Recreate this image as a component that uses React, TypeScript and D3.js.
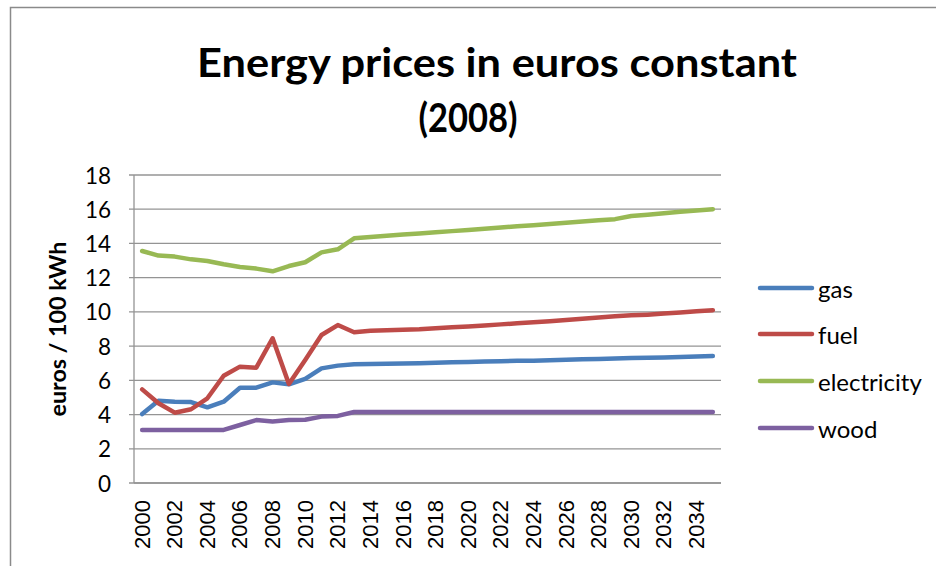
import React from "react";
import * as d3 from "d3";

const years = [
  "2000","2001","2002","2003","2004","2005","2006","2007","2008","2009",
  "2010","2011","2012","2013","2014","2015","2016","2017","2018","2019",
  "2020","2021","2022","2023","2024","2025","2026","2027","2028","2029",
  "2030","2031","2032","2033","2034","2035",
];
const xTickLabels = [
  "2000","2002","2004","2006","2008","2010","2012","2014","2016",
  "2018","2020","2022","2024","2026","2028","2030","2032","2034",
];
const yTicks = [0, 2, 4, 6, 8, 10, 12, 14, 16, 18];

const gas = [
  4.03, 4.81, 4.75, 4.73, 4.42, 4.75, 5.57, 5.57, 5.88, 5.77, 6.08, 6.7, 6.86,
  6.94, 6.95, 6.97, 6.98, 7.0, 7.03, 7.05, 7.07, 7.1, 7.12, 7.14, 7.15, 7.17,
  7.2, 7.23, 7.25, 7.27, 7.3, 7.32, 7.34, 7.37, 7.4, 7.42,
];
const fuel = [
  5.47, 4.66, 4.11, 4.31, 4.95, 6.27, 6.8, 6.74, 8.46, 5.79, 7.19, 8.65, 9.23,
  8.81, 8.9, 8.92, 8.95, 8.98, 9.04, 9.1, 9.15, 9.2, 9.27, 9.33, 9.4, 9.45,
  9.52, 9.6, 9.67, 9.74, 9.8, 9.84, 9.9, 9.97, 10.04, 10.1,
];
const electricity = [
  13.56, 13.29, 13.23, 13.07, 12.97, 12.78, 12.62, 12.53, 12.37, 12.68, 12.9,
  13.48, 13.66, 14.3, 14.38, 14.45, 14.52, 14.58, 14.65, 14.72, 14.79, 14.86,
  14.93, 15.0, 15.07, 15.14, 15.21, 15.28, 15.35, 15.42, 15.6, 15.68, 15.77,
  15.85, 15.93, 16.0,
];
const wood = [
  3.1, 3.1, 3.1, 3.1, 3.1, 3.1, 3.39, 3.68, 3.6, 3.68, 3.7, 3.88, 3.92, 4.15,
  4.15, 4.15, 4.15, 4.15, 4.15, 4.15, 4.15, 4.15, 4.15, 4.15, 4.15, 4.15, 4.15,
  4.15, 4.15, 4.15, 4.15, 4.15, 4.15, 4.15, 4.15, 4.15,
];

const seriesNames = ["gas", "fuel", "electricity", "wood"];
const seriesColors = ["#4A7EBB", "#BE4B48", "#98B954", "#7D60A0"];
const seriesValues = [gas, fuel, electricity, wood];

export default function App() {
  const W = 936;
  const H = 566;
  const plot = { left: 134, right: 721, top: 175, bottom: 483 };

  const x = d3
    .scalePoint<string>()
    .domain(years)
    .range([plot.left, plot.right])
    .padding(0.5);
  const y = d3.scaleLinear().domain([0, 18]).range([plot.bottom, plot.top]);

  const line = d3
    .line<number>()
    .x((_, i) => x(years[i]) as number)
    .y((d) => y(d));

  const gridColor = "#949494";
  const legendY = [288, 334, 381, 428];

  return (
    <svg
      width={W}
      height={H}
      style={{ position: "absolute", left: 0, top: 0, background: "#fff" }}
    >
      <rect x={0} y={0} width={W} height={H} fill="#fff" />
      {/* chart frame */}
      <rect
        x={10.5}
        y={7.5}
        width={W + 50}
        height={H + 50}
        fill="#fff"
        stroke="#8a8a8a"
        strokeWidth={1.5}
      />

      {/* title */}
      <text
        x={497}
        y={77}
        textAnchor="middle"
        fontFamily="Lato, 'Open Sans', sans-serif"
        fontWeight={700}
        fontSize={40}
        fill="#000"
        textLength={600}
        lengthAdjust="spacingAndGlyphs"
      >
        Energy prices in euros constant
      </text>
      <text
        x={468}
        y={132}
        textAnchor="middle"
        fontFamily="Lato, 'Open Sans', sans-serif"
        fontWeight={700}
        fontSize={40}
        fill="#000"
        textLength={99}
        lengthAdjust="spacingAndGlyphs"
      >
        (2008)
      </text>

      {/* gridlines */}
      {yTicks.map((t) => (
        <line
          key={"g" + t}
          x1={plot.left - 5}
          x2={plot.right}
          y1={y(t)}
          y2={y(t)}
          stroke={gridColor}
          strokeWidth={1.3}
        />
      ))}
      {/* axes */}
      <line
        x1={plot.left}
        x2={plot.left}
        y1={plot.top}
        y2={plot.bottom}
        stroke={gridColor}
        strokeWidth={1.3}
      />
      <line
        x1={plot.left}
        x2={plot.right}
        y1={plot.bottom}
        y2={plot.bottom}
        stroke={gridColor}
        strokeWidth={1.3}
      />

      {/* y tick labels */}
      {yTicks.map((t) => (
        <text
          key={"yl" + t}
          x={111}
          y={y(t)}
          textAnchor="end"
          dominantBaseline="central"
          fontFamily="Lato, 'Open Sans', sans-serif"
          fontSize={22.5}
          fill="#000"
        >
          {t}
        </text>
      ))}

      {/* y axis title */}
      <text
        transform={`translate(66, ${(plot.top + plot.bottom) / 2}) rotate(-90)`}
        textAnchor="middle"
        fontFamily="Lato, 'Open Sans', sans-serif"
        fontWeight={700}
        fontSize={22}
        fill="#000"
        textLength={175}
        lengthAdjust="spacingAndGlyphs"
      >
        euros / 100 kWh
      </text>

      {/* x tick labels */}
      {xTickLabels.map((lab) => (
        <text
          key={"xl" + lab}
          transform={`translate(${x(lab) as number}, 500) rotate(-90)`}
          textAnchor="end"
          dominantBaseline="central"
          fontFamily="'Liberation Sans', Arial, sans-serif"
          fontSize={22}
          fill="#000"
        >
          {lab}
        </text>
      ))}

      {/* series lines */}
      {seriesValues.map((vals, i) => (
        <path
          key={seriesNames[i]}
          d={line(vals) as string}
          fill="none"
          stroke={seriesColors[i]}
          strokeWidth={4.5}
          strokeLinejoin="round"
          strokeLinecap="round"
        />
      ))}

      {/* legend */}
      {seriesNames.map((name, i) => (
        <g key={"lg" + name}>
          <line
            x1={760}
            x2={812}
            y1={legendY[i]}
            y2={legendY[i]}
            stroke={seriesColors[i]}
            strokeWidth={4.5}
            strokeLinecap="round"
          />
          <text
            x={818}
            y={legendY[i]}
            dominantBaseline="central"
            fontFamily="Lato, 'Open Sans', sans-serif"
            fontSize={24}
            fill="#000"
          >
            {name}
          </text>
        </g>
      ))}
    </svg>
  );
}
